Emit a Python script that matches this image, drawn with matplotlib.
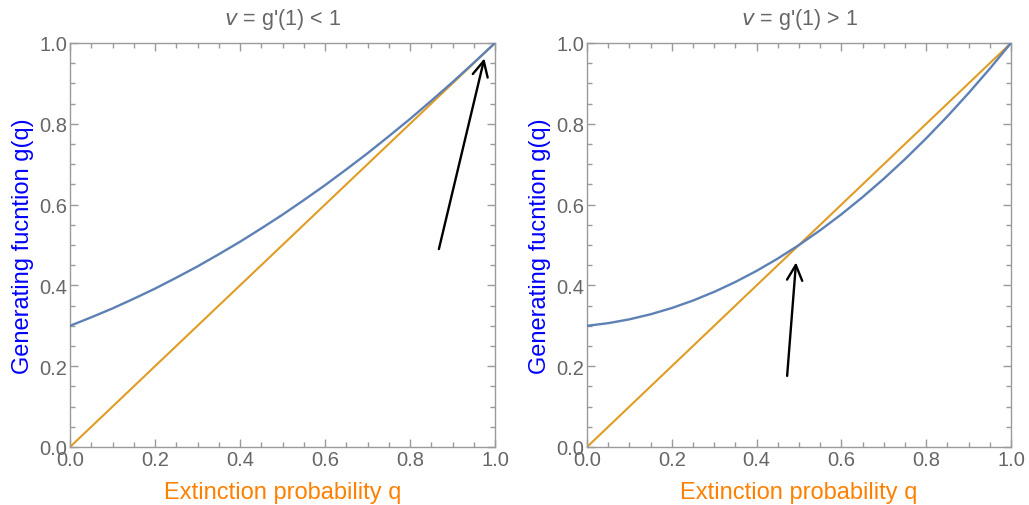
import matplotlib
matplotlib.use("Agg")
import matplotlib.pyplot as plt
from matplotlib.ticker import MultipleLocator

# Data
q = [0.00, 0.05, 0.10, 0.15, 0.20, 0.25, 0.30, 0.35, 0.40, 0.45, 0.50,
     0.55, 0.60, 0.65, 0.70, 0.75, 0.80, 0.85, 0.90, 0.95, 1.00]
g_sub = [0.300, 0.321, 0.343, 0.367, 0.392, 0.419, 0.447, 0.477, 0.508, 0.541, 0.575,
         0.611, 0.648, 0.687, 0.727, 0.769, 0.812, 0.857, 0.903, 0.951, 1.000]
g_super = [0.300, 0.3065, 0.316, 0.3285, 0.344, 0.3625, 0.384, 0.4085, 0.436, 0.4665, 0.500,
           0.5365, 0.576, 0.6185, 0.664, 0.7125, 0.764, 0.8185, 0.876, 0.9365, 1.000]
diag = [0.0, 1.0]
titles = ["= g'(1) < 1", "= g'(1) > 1"]
arrow_left = {"start": (0.868, 0.490), "end": (0.975, 0.962)}
arrow_right = {"start": (0.472, 0.176), "end": (0.493, 0.457)}
ticks = [0.0, 0.2, 0.4, 0.6, 0.8, 1.0]
tick_labels = ["0.0", "0.2", "0.4", "0.6", "0.8", "1.0"]

BLUE = "#5E81B5"
ORANGE = "#E19C24"
FRAME = "#9a9a9a"
TICKTXT = "#666666"

plt.rcParams['font.family'] = ['Liberation Sans', 'DejaVu Sans']

fig = plt.figure(figsize=(10.29, 5.06), dpi=100)
ax1 = fig.add_axes([70/1029, 58/506, 425/1029, 404/506])
ax2 = fig.add_axes([587/1029, 58/506, 424/1029, 404/506])

for ax, g, title, arr in [(ax1, g_sub, titles[0], arrow_left),
                          (ax2, g_super, titles[1], arrow_right)]:
    ax.plot(diag, diag, color=ORANGE, lw=1.5, zorder=2)
    ax.plot(q, g, color=BLUE, lw=1.7, zorder=3)
    ax.set_xlim(0, 1)
    ax.set_ylim(0, 1)
    ax.set_xticks(ticks)
    ax.set_xticklabels(tick_labels)
    ax.set_yticks(ticks)
    ax.set_yticklabels(tick_labels)
    ax.xaxis.set_minor_locator(MultipleLocator(0.05))
    ax.yaxis.set_minor_locator(MultipleLocator(0.05))
    ax.tick_params(which='both', direction='in', top=True, right=True,
                   color=FRAME, width=1.0)
    ax.tick_params(which='major', length=6, labelsize=14.5, labelcolor=TICKTXT, pad=2)
    ax.tick_params(which='minor', length=3.5)
    for s in ax.spines.values():
        s.set_color(FRAME)
        s.set_linewidth(1.0)
    ax.set_xlabel("Extinction probability q", color="#FF8000", fontsize=17, labelpad=9)
    ax.set_ylabel("Generating fucntion g(q)", color="#0000FF", fontsize=17, labelpad=4)
    ax.set_title(r"$\mathit{v}$ " + title, color=TICKTXT, fontsize=15.5, pad=14)
    ax.annotate("", xy=arr["end"], xytext=arr["start"],
                arrowprops=dict(arrowstyle="->,head_length=1.1,head_width=0.55",
                                color="black", lw=1.7, shrinkA=0, shrinkB=0,
                                mutation_scale=10), zorder=5)

fig.savefig("out.png", dpi=100)
